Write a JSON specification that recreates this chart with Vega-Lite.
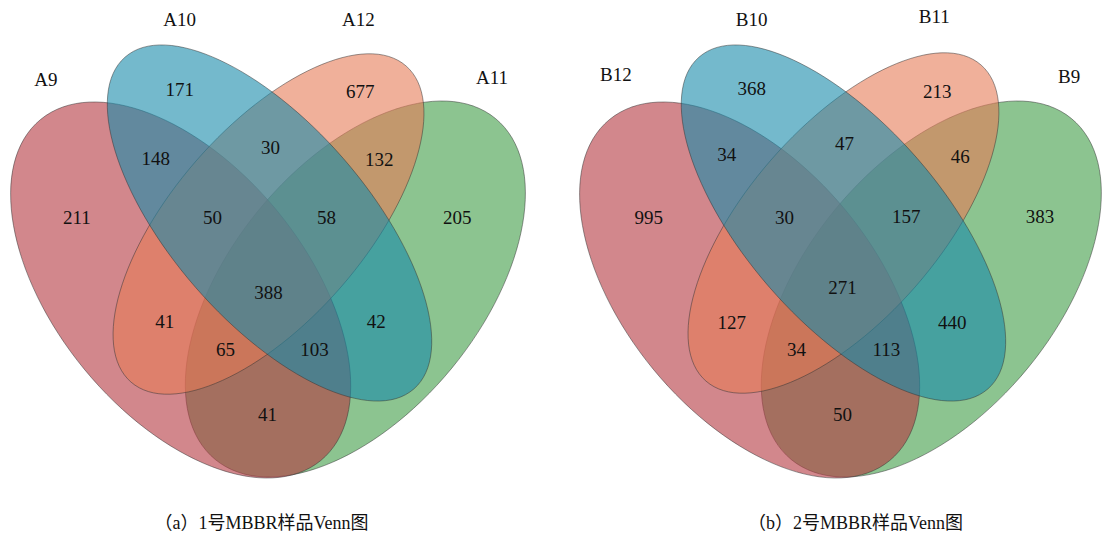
{
  "$schema": "https://vega.github.io/schema/vega-lite/v6.json",
  "width": 1104,
  "height": 536,
  "autosize": {"type": "fit", "contains": "padding"},
  "padding": 0,
  "background": "white",
  "config": {"view": {"stroke": null}},
  "datasets": {
    "ellipses": [
      {"set": "A11", "cx": 356, "cy": 289},
      {"set": "A9", "cx": 181, "cy": 290},
      {"set": "A12", "cx": 269, "cy": 224},
      {"set": "A10", "cx": 270, "cy": 223},
      {"set": "B9", "cx": 933, "cy": 289},
      {"set": "B12", "cx": 751, "cy": 290},
      {"set": "B11", "cx": 845, "cy": 223},
      {"set": "B10", "cx": 845, "cy": 223}
    ],
    "counts": [
      {"label": "171", "x": 180, "y": 90},
      {"label": "677", "x": 361, "y": 92},
      {"label": "148", "x": 156, "y": 159},
      {"label": "30", "x": 271, "y": 148},
      {"label": "132", "x": 380, "y": 160},
      {"label": "211", "x": 77, "y": 218},
      {"label": "50", "x": 213, "y": 218},
      {"label": "58", "x": 327, "y": 218},
      {"label": "205", "x": 458, "y": 218},
      {"label": "388", "x": 269, "y": 293},
      {"label": "41", "x": 165, "y": 322},
      {"label": "42", "x": 377, "y": 322},
      {"label": "65", "x": 226, "y": 350},
      {"label": "103", "x": 315, "y": 350},
      {"label": "41", "x": 268, "y": 415},
      {"label": "368", "x": 753, "y": 89},
      {"label": "213", "x": 939, "y": 92},
      {"label": "34", "x": 728, "y": 155},
      {"label": "47", "x": 846, "y": 144},
      {"label": "46", "x": 962, "y": 157},
      {"label": "995", "x": 650, "y": 218},
      {"label": "30", "x": 786, "y": 218},
      {"label": "157", "x": 908, "y": 217},
      {"label": "383", "x": 1042, "y": 217},
      {"label": "271", "x": 844, "y": 288},
      {"label": "127", "x": 733, "y": 323},
      {"label": "440", "x": 954, "y": 323},
      {"label": "34", "x": 798, "y": 350},
      {"label": "113", "x": 888, "y": 350},
      {"label": "50", "x": 844, "y": 415}
    ],
    "names": [
      {"label": "A9", "x": 46, "y": 80},
      {"label": "A10", "x": 180, "y": 20},
      {"label": "A12", "x": 359, "y": 20},
      {"label": "A11", "x": 493, "y": 78},
      {"label": "B12", "x": 617, "y": 75},
      {"label": "B10", "x": 753, "y": 20},
      {"label": "B11", "x": 936, "y": 17},
      {"label": "B9", "x": 1071, "y": 77}
    ],
    "captions": [
      {"label": "（a）1号MBBR样品Venn图", "x": 262, "y": 524},
      {"label": "（b）2号MBBR样品Venn图", "x": 857, "y": 524}
    ]
  },
  "layer": [
    {
      "data": {"name": "ellipses"},
      "mark": {"type": "point", "filled": true, "size": 4, "opacity": 1, "fillOpacity": 0.6, "stroke": "#333333", "strokeWidth": 1, "strokeOpacity": 0.5},
      "encoding": {
        "x": {"field": "cx", "type": "quantitative", "scale": {"domain": [0, 1104], "nice": false, "zero": false}, "axis": null},
        "y": {"field": "cy", "type": "quantitative", "scale": {"domain": [0, 536], "reverse": true, "nice": false, "zero": false}, "axis": null},
        "shape": {
          "field": "set", "type": "nominal", "legend": null,
          "scale": {
            "domain": ["A9", "A10", "A12", "A11", "B12", "B10", "B11", "B9"],
            "range": [
              "M140.1,170.5C86.9,214.2,-19,173.3,-96.4,79.2C-173.7,-15,-193.3,-126.8,-140.1,-170.5C-86.9,-214.2,19,-173.3,96.4,-79.2C173.7,15,193.3,126.8,140.1,170.5Z",
              "M144.3,166C103.5,201.5,5.8,156,-74,64.3C-153.7,-27.4,-185.2,-130.5,-144.3,-166C-103.5,-201.5,-5.8,-156,74,-64.3C153.7,27.4,185.2,130.5,144.3,166Z",
              "M-137.5,158.1C-97.4,192.9,-3.5,150.3,72.5,63C148.4,-24.3,177.5,-123.3,137.5,-158.1C97.4,-192.9,3.5,-150.3,-72.5,-63C-148.4,24.3,-177.5,123.3,-137.5,158.1Z",
              "M-140.1,170.5C-86.9,214.2,19,173.3,96.4,79.2C173.7,-15,193.3,-126.8,140.1,-170.5C86.9,-214.2,-19,-173.3,-96.4,-79.2C-173.7,15,-193.3,126.8,-140.1,170.5Z",
              "M140.1,170.5C86.9,214.2,-19,173.3,-96.4,79.2C-173.7,-15,-193.3,-126.8,-140.1,-170.5C-86.9,-214.2,19,-173.3,96.4,-79.2C173.7,15,193.3,126.8,140.1,170.5Z",
              "M144.3,166C103.5,201.5,5.8,156,-74,64.3C-153.7,-27.4,-185.2,-130.5,-144.3,-166C-103.5,-201.5,-5.8,-156,74,-64.3C153.7,27.4,185.2,130.5,144.3,166Z",
              "M-137.5,158.1C-97.4,192.9,-3.5,150.3,72.5,63C148.4,-24.3,177.5,-123.3,137.5,-158.1C97.4,-192.9,3.5,-150.3,-72.5,-63C-148.4,24.3,-177.5,123.3,-137.5,158.1Z",
              "M-140.1,170.5C-86.9,214.2,19,173.3,96.4,79.2C173.7,-15,193.3,-126.8,140.1,-170.5C86.9,-214.2,-19,-173.3,-96.4,-79.2C-173.7,15,-193.3,126.8,-140.1,170.5Z"
            ]
          }
        },
        "color": {
          "field": "set", "type": "nominal", "legend": null,
          "scale": {
            "domain": ["A9", "A10", "A12", "A11", "B12", "B10", "B11", "B9"],
            "range": ["#B4373F", "#178AAA", "#E67B57", "#3F9D46", "#B4373F", "#178AAA", "#E67B57", "#3F9D46"]
          }
        }
      }
    },
    {
      "data": {"name": "counts"},
      "mark": {"type": "text", "font": "Liberation Serif", "fontSize": 19, "color": "#111111", "align": "center", "baseline": "middle"},
      "encoding": {
        "x": {"field": "x", "type": "quantitative"},
        "y": {"field": "y", "type": "quantitative"},
        "text": {"field": "label", "type": "nominal"}
      }
    },
    {
      "data": {"name": "names"},
      "mark": {"type": "text", "font": "Liberation Serif", "fontSize": 19, "color": "#111111", "align": "center", "baseline": "middle"},
      "encoding": {
        "x": {"field": "x", "type": "quantitative"},
        "y": {"field": "y", "type": "quantitative"},
        "text": {"field": "label", "type": "nominal"}
      }
    },
    {
      "data": {"name": "captions"},
      "mark": {"type": "text", "font": "Liberation Serif, Noto Sans CJK SC", "fontSize": 18, "color": "#111111", "align": "center", "baseline": "middle"},
      "encoding": {
        "x": {"field": "x", "type": "quantitative"},
        "y": {"field": "y", "type": "quantitative"},
        "text": {"field": "label", "type": "nominal"}
      }
    }
  ]
}
